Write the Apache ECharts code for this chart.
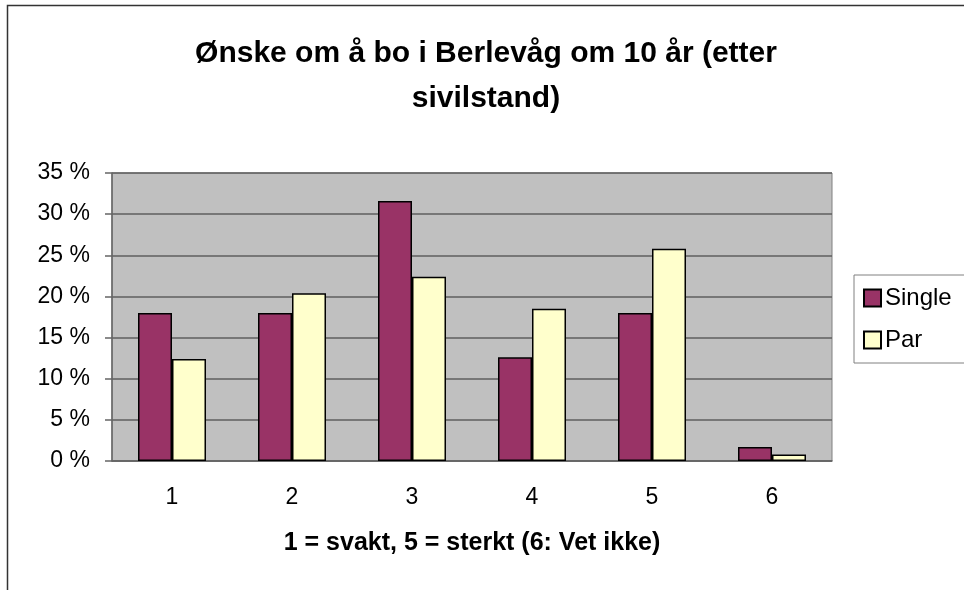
<!DOCTYPE html>
<html>
<head>
<meta charset="utf-8">
<script src="https://cdn.jsdelivr.net/npm/echarts@6/dist/echarts.min.js"></script>
<style>
  html, body { margin: 0; padding: 0; background: #fff; }
  #chart { width: 964px; height: 590px; }
</style>
</head>
<body>
<div id="chart"></div>
<script>
// categories: 1 = svakt ... 5 = sterkt, 6 = vet ikke
const categories = ['1', '2', '3', '4', '5', '6']
const singleValues = [18.0, 18.0, 31.6, 12.6, 18.0, 1.7]
const parValues = [12.4, 20.4, 22.4, 18.5, 25.8, 0.8]
const yTicks = [0, 5, 10, 15, 20, 25, 30, 35]

const font = 'Liberation Sans, Arial, sans-serif'
const chart = echarts.init(document.getElementById('chart'))

chart.setOption({
  animation: false,
  textStyle: { fontFamily: font },
  title: {
    text: 'Ønske om å bo i Berlevåg om 10 år (etter\nsivilstand)',
    left: 481,
    top: 26,
    textAlign: 'center',
    textStyle: {
      fontFamily: font,
      fontSize: 30,
      fontWeight: 'bold',
      color: '#000',
      lineHeight: 45
    }
  },
  graphic: [{
    type: 'rect',
    shape: { x: 7.5, y: 5.5, width: 1000, height: 700 },
    style: { fill: 'none', stroke: '#333', lineWidth: 1.5 },
    silent: true,
    z: -10
  }],
  legend: {
    orient: 'vertical',
    left: 854,
    top: 275,
    padding: [11, 40, 11, 9],
    itemGap: 18,
    itemWidth: 17,
    itemHeight: 17,
    borderColor: '#808080',
    borderWidth: 1,
    backgroundColor: '#fff',
    icon: 'rect',
    textStyle: { fontFamily: font, fontSize: 24, color: '#000', padding: [0, 0, 0, -1] },
    data: ['Single', 'Par']
  },
  grid: {
    left: 112,
    top: 173,
    width: 720,
    height: 288,
    show: true,
    backgroundColor: '#C0C0C0',
    borderColor: '#808080',
    borderWidth: 1
  },
  xAxis: {
    type: 'category',
    data: categories,
    name: '1 = svakt, 5 = sterkt (6: Vet ikke)',
    nameLocation: 'middle',
    nameGap: 70,
    nameTextStyle: { fontFamily: font, fontSize: 25, fontWeight: 'bold', color: '#000' },
    axisLine: { lineStyle: { color: '#666', width: 1.5 } },
    axisTick: { length: 6, lineStyle: { color: '#666', width: 1.5 } },
    axisLabel: { fontFamily: font, fontSize: 23, color: '#000', margin: 25 }
  },
  yAxis: {
    type: 'value',
    min: yTicks[0],
    max: yTicks[yTicks.length - 1],
    interval: 5,
    axisLine: { show: true, lineStyle: { color: '#666', width: 1.5 } },
    axisTick: { show: true, length: 7, lineStyle: { color: '#666', width: 1.5 } },
    axisLabel: { fontFamily: font, fontSize: 23, color: '#000', margin: 22, formatter: '{value} %' },
    splitLine: { lineStyle: { color: '#5f5f5f', width: 1.5 } }
  },
  series: [{
    name: 'Single',
    type: 'bar',
    data: singleValues,
    barWidth: 34,
    barGap: '0%',
    itemStyle: { color: '#993366', borderColor: '#000', borderWidth: 1.5 }
  }, {
    name: 'Par',
    type: 'bar',
    data: parValues,
    barWidth: 34,
    barGap: '0%',
    itemStyle: { color: '#FFFFCC', borderColor: '#000', borderWidth: 1.5 }
  }]
})
</script>
</body>
</html>
